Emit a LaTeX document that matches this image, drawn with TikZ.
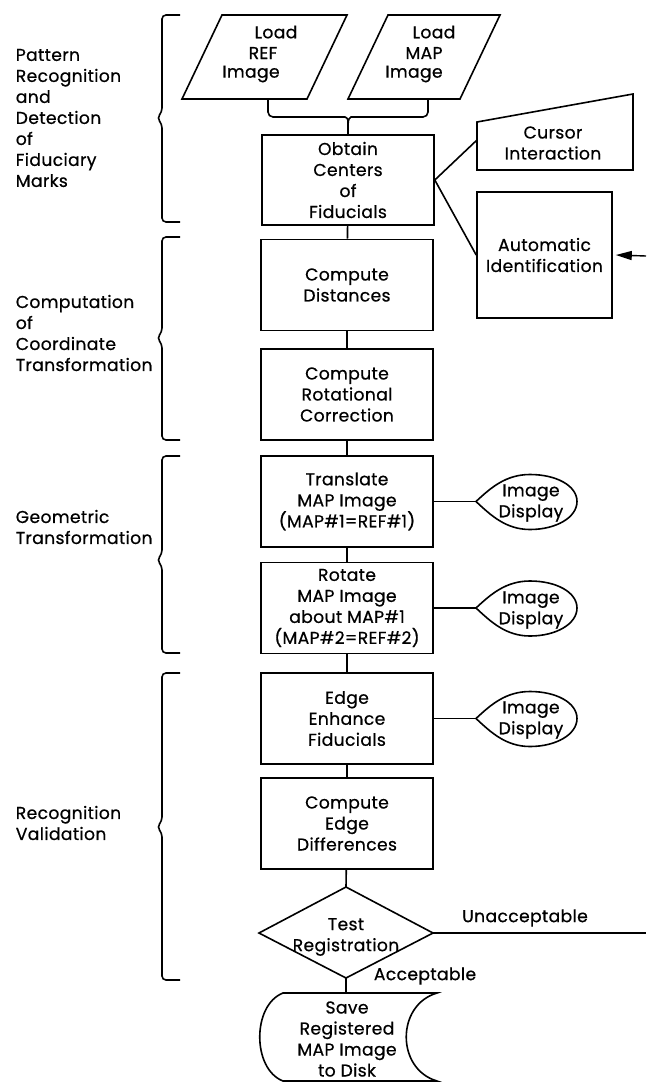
\documentclass[tikz,border=0pt]{standalone}
\usepackage{fontspec}
\setmainfont{Poppins}[FakeBold=0.6, LetterSpace=2]
\usetikzlibrary{arrows.meta}
\newcommand\dfont{\fontsize{17.2}{21}\selectfont}
\begin{document}
\begin{tikzpicture}[x=1pt,y=-1pt, line width=1.6pt,
  every node/.style={font=\dfont, inner sep=0pt, align=center},
  box/.style={draw, minimum width=172pt, minimum height=91pt},
  lbl/.style={anchor=west, align=left},
  tear/.pic={\draw (0,0) .. controls (15,-14) and (30,-27) .. (54,-27) .. controls (80,-27) and (101,-16) .. (101,0) .. controls (101,16) and (80,28) .. (54,28) .. controls (30,28) and (15,14) .. (0,0) -- cycle;}
]
\useasboundingbox (0,0) rectangle (646,1084);

% left braces and labels
\foreach \t/\m/\b in {15/118/222, 237/338/440, 456/560/653, 673/827/980}{
  \draw[rounded corners=4] (180,\t) -- (162,\t) -- (162,\m-6) -- (157,\m) -- (162,\m+6) -- (162,\b) -- (180,\b);
}
\node[lbl] (lab1) at (15,118) {Pattern\\Recognition\\and\\Detection\\of\\Fiduciary\\Marks};
\node[lbl] (lab2) at (15,333) {Computation\\of\\Coordinate\\Transformation};
\node[lbl] (lab3) at (15,527) {Geometric\\Transformation};
\node[lbl] (lab4) at (15,823) {Recognition\\Validation};

% parallelograms
\draw (222,15) -- (347,15) -- (307,99) -- (182,99) -- cycle;
\node (p1a) at (276,32) {Load};
\node (p1b) at (263,53) {REF};
\node (p1c) at (251,74) {Image};
\draw (388,15) -- (500,15) -- (460,99) -- (348,99) -- cycle;
\node (p2a) at (434,32) {Load};
\node (p2b) at (424,53) {MAP};
\node (p2c) at (414,74) {Image};
\coordinate (m1) at (268,99);
\coordinate (m2) at (428,99);

% main column
\node[box, minimum height=90pt] (obtain) at (348,180) {Obtain\\Centers\\of\\Fiducials};
\node[box] (dist) at (347,285) {Compute\\Distances};
\node[box] (rotc) at (347,394.5) {Compute\\Rotational\\Correction};
\node[box] (trans) at (347,501.5) {Translate\\MAP Image\\(MAP\#1=REF\#1)};
\node[box] (rotate) at (347,608) {Rotate\\MAP Image\\about MAP\#1\\(MAP\#2=REF\#2)};
\node[box] (edge) at (347,718.5) {Edge\\Enhance\\Fiducials};
\node[box] (diff) at (347,823.5) {Compute\\Edge\\Differences};

% diamond
\coordinate (tT) at (346,887);
\coordinate (tR) at (433,933);
\coordinate (tB) at (346,978);
\coordinate (tL) at (259,933);
\draw (tT) -- (tR) -- (tB) -- (tL) -- cycle;
\node (test) at (346,937) {Test\\Registration};

% stored data terminal
\coordinate (sTop) at (346,993);
\draw (283,993) -- (437,993) .. controls (396,1005) and (396,1069) .. (437,1081) -- (283,1081) .. controls (252,1069) and (252,1005) .. (283,993) -- cycle;
\node (save) at (347,1039) {Save\\Registered\\MAP Image\\to Disk};

% cursor interaction
\draw (477,122) -- (633,94) -- (633,170) -- (477,170) -- cycle;
\coordinate (cl) at (477,140);
\node (cursor) at (553,143) {Cursor\\Interaction};

% automatic identification
\node[draw, minimum width=135pt, minimum height=126pt] (auto) at (544.5,255) {Automatic\\Identification};
\coordinate (ain) at (646,256);

% image displays
\pic at (476,501.5) {tear};
\coordinate (d1) at (476,501.5);
\node (d1t) at (531,503) {Image\\Display};
\pic at (476,608) {tear};
\coordinate (d2) at (476,608);
\node (d2t) at (531,610) {Image\\Display};
\pic at (476,718.5) {tear};
\coordinate (d3) at (476,718.5);
\node (d3t) at (531,720) {Image\\Display};

% connectors
\draw[rounded corners=5] (m1) |- (340,117) .. controls (346,117) and (348,119) .. (348,125) -- (obtain.north);
\draw[rounded corners=5] (m2) |- (356,117) .. controls (350,117) and (348,119) .. (348,125);
\draw (obtain.east) -- (cl);
\draw (obtain.east) -- (auto.west);
\draw[-{Triangle[length=16pt,width=9pt]}, line width=1.4pt] (ain) -- ([xshift=3pt]auto.east);
\draw (obtain) -- (dist);
\draw (dist) -- (rotc);
\draw (rotc) -- (trans);
\draw (trans) -- (rotate);
\draw (rotate) -- (edge);
\draw (edge) -- (diff);
\draw (diff) -- (tT);
\draw (tB) -- (sTop);
\draw (trans.east) -- (d1);
\draw (rotate.east) -- (d2);
\draw (edge.east) -- (d3);
\coordinate (uend) at (646,933);
\draw (tR) -- (uend);
\node (unacc) at (525,918) {Unacceptable};
\node (acc) at (425,976) {Acceptable};
\end{tikzpicture}
\end{document}
